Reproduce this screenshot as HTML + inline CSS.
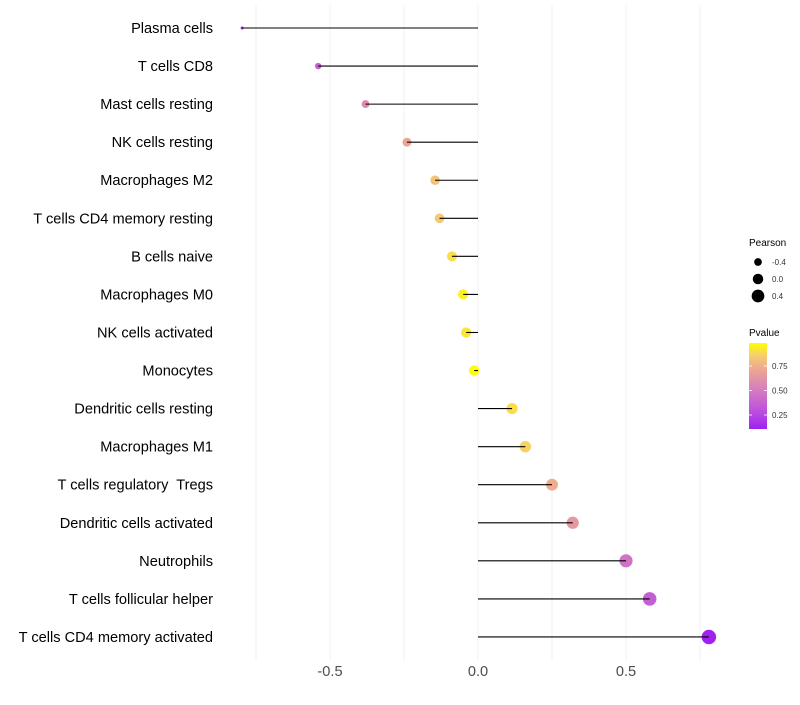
<!DOCTYPE html>
<html><head><meta charset="utf-8"><style>
body{margin:0;background:#fff;font-family:"Liberation Sans",sans-serif}
</style></head><body>
<svg id="chart" width="800" height="700" xmlns="http://www.w3.org/2000/svg">
<defs><linearGradient id="pg" x1="0" y1="1" x2="0" y2="0">
<stop offset="0" stop-color="#a020f0"/><stop offset="0.2" stop-color="#bb4ee0"/><stop offset="0.45" stop-color="#d47cc0"/><stop offset="0.7" stop-color="#eea890"/><stop offset="0.85" stop-color="#f6cc70"/><stop offset="1" stop-color="#ffff00"/></linearGradient></defs>
<g id="grid"></g><g id="marks"></g><g id="labels"></g>
<g>
<text x="749" y="246" font-size="10" fill="#000">Pearson</text>
<g id="sizeLeg"></g>
<text x="749" y="336" font-size="10" fill="#000">Pvalue</text>
<rect x="749" y="343" width="18" height="86" fill="url(#pg)"/>
<g id="colLeg"></g>
</g>
</svg>
<script>
const categories=["Plasma cells","T cells CD8","Mast cells resting","NK cells resting","Macrophages M2","T cells CD4 memory resting","B cells naive","Macrophages M0","NK cells activated","Monocytes","Dendritic cells resting","Macrophages M1","T cells regulatory  Tregs","Dendritic cells activated","Neutrophils","T cells follicular helper","T cells CD4 memory activated"];
const pearson=[-0.797,-0.54,-0.38,-0.24,-0.145,-0.13,-0.088,-0.05,-0.04,-0.013,0.115,0.16,0.25,0.32,0.5,0.58,0.78];
const pvalue=[0.11,0.38,0.58,0.7,0.82,0.84,0.9,0.95,0.92,0.98,0.9,0.87,0.74,0.64,0.46,0.36,0.11];
const xTicks=[-0.5,0,0.5];
const xGrid=[-0.75,-0.5,-0.25,0,0.25,0.5,0.75];
const sizeLegend=[-0.4,0,0.4];
const colorLegend=[0.25,0.5,0.75];
const NS="http://www.w3.org/2000/svg";
const x=v=>478+v*296;
const y=i=>28+i*38.06;
const pmin=0.107,pmax=0.985;
const py=p=>429-(p-pmin)/(pmax-pmin)*86;
const vmin=Math.min(...pearson),vmax=Math.max(...pearson);
const r=v=>Math.sqrt(2.25+(v-vmin)/(vmax-vmin)*50);
const stops=[[0,[160,32,240]],[0.2,[187,78,224]],[0.45,[212,124,192]],[0.7,[238,168,144]],[0.85,[246,204,112]],[1,[255,255,0]]];
function col(p){let t=Math.max(0,Math.min(1,(p-pmin)/(pmax-pmin)));for(let k=1;k<stops.length;k++){if(t<=stops[k][0]){const a=stops[k-1],b=stops[k],f=(t-a[0])/(b[0]-a[0]);return 'rgb('+a[1].map((c,j)=>Math.round(c+(b[1][j]-c)*f)).join(',')+')';}}return 'rgb(255,255,0)';}
function mk(t,at,parent){const e=document.createElementNS(NS,t);for(const k in at)e.setAttribute(k,at[k]);parent.appendChild(e);return e;}
const G=document.getElementById('grid'),M=document.getElementById('marks'),L=document.getElementById('labels');
xGrid.forEach(v=>{const l=mk('line',{x1:x(v),x2:x(v),y1:5,y2:660,stroke:'#f0f0f0','stroke-width':1},G);

});
categories.forEach((c,i)=>{
const t=mk('text',{x:213,y:y(i)+5,'text-anchor':'end','font-size':14.6,fill:'#000'},L);t.textContent=c;t.setAttribute('xml:space','preserve');t.style.whiteSpace='pre';


const d=mk('circle',{cx:x(pearson[i]),cy:y(i),r:r(pearson[i]),fill:col(pvalue[i])},M);


const s=mk('line',{x1:x(0),x2:x(pearson[i]),y1:y(i),y2:y(i),stroke:'#000','stroke-width':1.1},M);


});
xTicks.forEach(v=>{const t=mk('text',{x:x(v),y:676,'text-anchor':'middle','font-size':14.6,fill:'#4d4d4d'},L);t.textContent=v===0?'0.0':v.toFixed(1);

});
const SL=document.getElementById('sizeLeg'),CL=document.getElementById('colLeg');
sizeLegend.forEach((v,k)=>{const cy=262+k*17;
const c=mk('circle',{cx:758,cy:cy,r:r(v),fill:'#000'},SL);


const t=mk('text',{x:772,y:cy+3,'font-size':8,fill:'#333'},SL);t.textContent=v.toFixed(1);

});
colorLegend.forEach(p=>{const yy=py(p);
mk('line',{x1:749,x2:752,y1:yy,y2:yy,stroke:'#fff','stroke-width':0.8},CL);
mk('line',{x1:764,x2:767,y1:yy,y2:yy,stroke:'#fff','stroke-width':0.8},CL);
const t=mk('text',{x:772,y:yy+3,'font-size':8,fill:'#333'},CL);t.textContent=p.toFixed(2);

});
</script>
</body></html>
